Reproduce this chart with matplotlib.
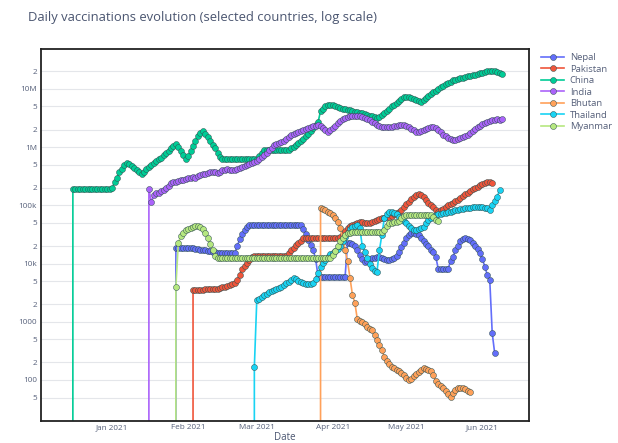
import matplotlib
matplotlib.use("Agg")
import matplotlib.pyplot as plt
from matplotlib.ticker import FixedLocator, NullLocator
import pandas as pd

plt.rcParams["font.family"] = ["Open Sans", "DejaVu Sans"]

countries = ["Nepal", "Pakistan", "China", "India", "Bhutan", "Thailand", "Myanmar"]
colors = ["#636efa", "#EF553B", "#00cc96", "#ab63fa", "#FFA15A", "#19d3f3", "#B6E880"]

# each series starts on the day before the first reported figure (0 doses)
starts = ["2021-01-26", "2021-02-02", "2020-12-15", "2021-01-15",
          "2021-03-26", "2021-02-27", "2021-01-26"]

nepal = [0,
    18500, 18500, 18500, 18500, 18500, 18500, 18500, 18200, 18000, 17700,
    17400, 17100, 16800, 16500, 16200, 15900, 15600, 15300, 15200, 15200,
    15200, 15200, 15200, 15200, 15200, 20000, 26000, 32000, 38000, 43000,
    46000, 46000, 46000, 46000, 46000, 46000, 46000, 46000, 46000, 46000,
    46000, 46000, 46000, 46000, 46000, 46000, 46000, 46000, 46000, 46000,
    46000, 46000, 40000, 32000, 25000, 21000, 17000, 12000, 5900, 5900,
    5900, 5900, 5900, 5900, 5900, 5900, 5900, 5900, 5900, 5900,
    22600, 23000, 22000, 20000, 17000, 14000, 12000, 10500, 11000, 12000,
    12500, 12500, 13000, 13000, 12500, 12000, 11500, 11500, 12000, 12500,
    13500, 16000, 19000, 23000, 28000, 31000, 33000, 34000, 32000, 31000,
    28000, 24000, 22000, 20000, 17000, 16000, 13000, 8100, 8100, 8100,
    8100, 8100, 11000, 13000, 17000, 20000, 24000, 26500, 27000, 26500,
    25000, 23000, 20000, 18000, 15000, 12000, 8700, 6400, 5200, 640, 290]

pakistan = [0,
    3500, 3500, 3500, 3500, 3500, 3600, 3600, 3600, 3600, 3700,
    3700, 3800, 3900, 4000, 4100, 4300, 4500, 4700, 5200, 6400,
    8000, 9200, 10300, 11500, 12800, 13500, 13500, 13500, 13500, 13500,
    13500, 13500, 13500, 13500, 13500, 13500, 13500, 13500, 13500, 15000,
    17000, 18500, 20500, 22500, 24500, 27000, 27000, 27000, 27000, 27000,
    27000, 27000, 27000, 27000, 27000, 27000, 27000, 27000, 27000, 27000,
    29000, 32000, 36000, 41000, 44000, 46000, 48000, 50000, 52000, 51000,
    50000, 50000, 50000, 52000, 54000, 56000, 58000, 60000, 61000, 62000,
    63000, 66000, 70000, 74000, 77000, 84000, 95000, 105000, 115000, 128000,
    140000, 150000, 155000, 148000, 139000, 125000, 112000, 100000, 92000, 84000,
    78000, 82000, 88000, 94000, 100000, 106000, 112000, 118000, 124000, 134000,
    145000, 155000, 163000, 175000, 188000, 200000, 210000, 220000, 230000, 240000,
    250000, 252000, 243000]

china = [0,
    187500, 187500, 187500, 187500, 187500, 187500, 187500, 187500,
    187500, 187500, 187500, 187500, 187500, 187500, 187500, 187500,
    200000, 250000, 300000, 370000, 430000, 490000, 530000, 520000, 480000, 440000,
    400000, 370000, 350000, 380000, 420000, 460000, 500000, 540000, 580000, 620000,
    660000, 720000, 790000, 870000, 950000, 1050000, 1150000, 1000000, 850000, 720000,
    630000, 700000, 850000, 1050000, 1300000, 1550000, 1750000, 1900000, 1700000, 1500000,
    1300000, 1100000, 950000, 800000, 680000,
    630000, 630000, 630000, 630000, 630000, 630000, 630000, 630000,
    630000, 630000, 630000, 630000, 630000, 630000, 630000,
    700000, 800000,
    900000, 900000, 900000, 900000, 900000, 900000, 900000, 900000, 900000, 900000, 900000,
    950000, 1000000, 1100000, 1200000, 1300000, 1400000, 1550000, 1700000, 1900000, 2100000,
    2400000, 2700000, 4200000, 4600000, 5000000, 5200000, 5300000, 5200000, 5000000, 4900000,
    4700000, 4600000, 4500000, 4400000, 4300000, 4200000, 4100000, 4000000, 3900000, 3850000,
    3750000, 3600000, 3500000, 3400000, 3300000, 3200000, 3300000, 3600000, 3900000, 4200000,
    4600000, 5000000, 5400000, 5800000, 6300000, 6800000, 7200000, 7400000, 7300000, 7000000,
    6700000, 6400000, 6200000, 6000000, 6400000, 6900000, 7500000, 8100000, 8700000, 9300000,
    10000000, 10700000, 11400000, 12000000, 12600000, 13300000, 14000000, 14400000, 14800000, 15200000,
    15600000, 16000000, 16400000, 16800000, 17200000, 17600000, 18000000, 18500000, 19000000, 19500000,
    20000000, 20400000, 20400000, 20200000, 19600000, 18800000, 18100000]

india = [0,
    191000, 114000, 150000, 160000, 165000, 175000, 185000, 195000, 215000, 240000,
    250000, 255000, 265000, 275000, 270000, 280000, 290000, 300000, 305000, 300000,
    320000, 330000, 340000, 345000, 360000, 375000, 380000, 370000, 360000, 380000,
    400000, 410000, 420000, 410000, 400000, 400000, 420000, 440000, 460000, 480000,
    500000, 520000, 540000, 560000, 580000, 620000, 680000, 740000, 800000, 880000,
    980000, 1100000, 1150000, 1200000, 1250000, 1300000, 1400000, 1500000, 1600000, 1700000,
    1750000, 1800000, 1900000, 2000000, 2050000, 2100000, 2200000, 2300000, 2350000, 2400000,
    2300000, 2150000, 1950000, 1850000, 1950000, 2100000, 2350000, 2600000, 2800000, 3000000,
    3150000, 3300000, 3400000, 3450000, 3500000, 3450000, 3400000, 3300000, 3200000, 3050000,
    2900000, 2750000, 2600000, 2450000, 2350000, 2250000, 2200000, 2200000, 2200000, 2250000,
    2300000, 2350000, 2400000, 2450000, 2400000, 2300000, 2200000, 2050000, 1950000, 1850000,
    1850000, 1900000, 1950000, 2050000, 2100000, 2200000, 2200000, 2100000, 1950000, 1800000,
    1650000, 1550000, 1450000, 1380000, 1330000, 1350000, 1400000, 1450000, 1500000, 1550000,
    1600000, 1750000, 1900000, 2050000, 2200000, 2350000, 2500000, 2600000, 2700000, 2800000,
    2900000, 2950000, 3000000, 2950000, 3000000]

bhutan = [0,
    90000, 88000, 83000, 78000, 74000, 68000, 61000, 52000, 41000, 27000,
    17000, 11000, 5700, 2900, 2100, 1100, 1050, 990, 900, 815,
    760, 720, 600, 480, 400, 330, 250, 210, 190, 170,
    160, 150, 140, 130, 122, 110, 100, 105, 115, 125,
    137, 150, 160, 155, 150, 140, 120, 95, 85, 78,
    72, 66, 58, 51, 60, 68, 73, 72, 74, 70,
    66, 62]

thailand = [0,
    167, 2400, 2500, 2700, 2900, 3000, 3200, 3400, 3500, 3600,
    3800, 4000, 4300, 4600, 4900, 5200, 5600, 5400, 5000, 4800,
    4600, 4500, 4500, 4500, 4600, 5500, 6900, 8700, 10200, 11500,
    13000, 14500, 15500, 16500, 18000, 20000, 24000, 29000, 34000, 39000,
    43000, 45000, 46000, 41000, 20000, 16000, 12500, 10000, 8500, 7600,
    7200, 17000, 31000, 60000, 72000, 76000, 77000, 75000, 70000, 64000,
    58000, 53000, 50000, 45000, 41000, 38000, 38000, 39000, 41000, 43000,
    49000, 56000, 61000, 65000, 68000, 70000, 72000, 74000, 75000, 76000,
    77000, 80000, 82000, 83000, 85000, 87000, 89000, 90000, 91000, 92000,
    93000, 94000, 93000, 92000, 91000, 90000, 83000, 100000, 120000, 139000,
    184000]

myanmar = [0,
    4000, 22600, 30000, 34000, 38000, 40000, 41000, 43000, 44000, 44000,
    43000, 40000, 34000, 27000, 22000, 17000, 13500, 12500, 12500, 12500,
    12500, 12500, 12500, 12500, 12500, 12500, 12500, 12500, 12500, 12500,
    12500, 12500, 12500, 12500, 12500, 12500, 12500, 12500, 12500, 12500,
    12500, 12500, 12500, 12500, 12500, 12500, 12500, 12500, 12500, 12500,
    12500, 12500, 12500, 12500, 12500, 12500, 12500, 12500, 12500, 12500,
    12500, 12500, 12500, 12500, 14000, 16500, 20000, 24000, 28000, 31000,
    33000, 34000, 35000, 35000, 35000, 35000, 35000, 35000, 35000, 35000,
    35000, 35000, 35000, 35000, 35000, 38000, 44000, 50000, 50000, 51000,
    52000, 54000, 60000, 65000, 68000, 68000, 68000, 68000, 68000, 68000,
    68000, 68000, 68000, 68000, 68000, 62000, 57000, 54000]

series = [nepal, pakistan, china, india, bhutan, thailand, myanmar]

y_ticks = [50, 100, 200, 500, 1000, 2000, 5000, 1e4, 2e4, 5e4,
           1e5, 2e5, 5e5, 1e6, 2e6, 5e6, 1e7, 2e7]
y_labels = ["5", "100", "2", "5", "1000", "2", "5", "10k", "2", "5",
            "100k", "2", "5", "1M", "2", "5", "10M", "2"]
x_ticks = ["2021-01-01", "2021-02-01", "2021-03-01", "2021-04-01",
           "2021-05-01", "2021-06-01"]
x_labels = ["Jan 2021", "Feb 2021", "Mar 2021", "Apr 2021", "May 2021", "Jun 2021"]

fig = plt.figure(figsize=(6.18, 4.43), dpi=100)
ax = fig.add_axes([41 / 618, 1 - 421 / 443, 488 / 618, 372 / 443])
ax.set_yscale("log", nonpositive="clip")

for name, col, start, vals in zip(countries, colors, starts, series):
    days = pd.date_range(start, periods=len(vals), freq="D")
    ax.plot(days, vals, "-o", color=col, lw=1.2, ms=4.3,
            mec="#2f4f4f", mew=0.35, label=name)

ax.set_xlim(pd.Timestamp("2020-12-03"), pd.Timestamp("2021-06-20"))
ax.set_ylim(19.75, 4.86e7)

ax.yaxis.set_major_locator(FixedLocator(y_ticks))
ax.yaxis.set_minor_locator(NullLocator())
ax.set_yticklabels(y_labels)
ax.set_xticks(pd.to_datetime(x_ticks))
ax.set_xticklabels(x_labels)
ax.xaxis.set_minor_locator(NullLocator())

ax.grid(True, axis="y", color="#e4e6ea", lw=0.8)
ax.set_axisbelow(True)
ax.tick_params(length=0, labelsize=5.9, colors="#56607a")
ax.tick_params(axis="x", pad=2.5)
ax.tick_params(axis="y", pad=3)
for sp in ax.spines.values():
    sp.set_color("#222222")
    sp.set_linewidth(1.3)

fig.text(28 / 618, 1 - 17 / 443,
         "Daily vaccinations evolution (selected countries, log scale)",
         fontsize=9.4, color="#4a5570", va="center", ha="left")
fig.text(285 / 618, 1 - 437 / 443, "Date", fontsize=7,
         color="#4a5570", va="center", ha="center")

leg = ax.legend(loc="upper left", bbox_to_anchor=(541 / 618, 1 - 53 / 443),
                bbox_transform=fig.transFigure, frameon=False, fontsize=6.8,
                handlelength=2.45, handletextpad=0.6, labelspacing=0.27,
                borderaxespad=0, borderpad=0)
for t in leg.get_texts():
    t.set_color("#56607a")

fig.savefig("out.png", dpi=100)
